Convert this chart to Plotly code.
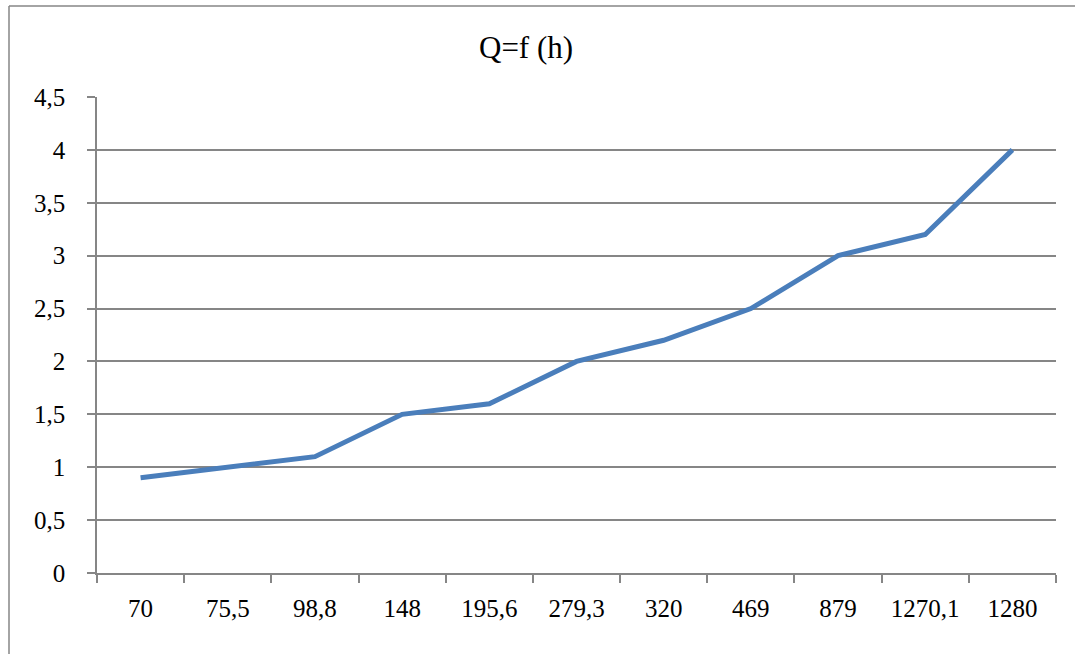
import plotly.graph_objects as go

categories = ["70", "75,5", "98,8", "148", "195,6", "279,3", "320", "469", "879", "1270,1", "1280"]
q_values = [0.9, 1.0, 1.1, 1.5, 1.6, 2.0, 2.2, 2.5, 3.0, 3.2, 4.0]
title_text = "Q=f (h)"

W, H = 1075, 654
L, R, T, B = 97, 19, 97, 81
pw, ph = W - L - R, H - T - B

def px_x(x):
    return (x - L) / pw

def px_y(y):
    return 1 + (T - y) / ph

gray = "#868686"
font_family = "Liberation Serif, Times New Roman, serif"

fig = go.Figure()
fig.add_trace(go.Scatter(
    x=categories, y=q_values, mode="lines",
    line=dict(color="#4A7EBB", width=5),
    hoverinfo="x+y", showlegend=False,
))

fig.update_layout(
    width=W, height=H,
    margin=dict(l=L, r=R, t=T, b=B, pad=0, autoexpand=False),
    paper_bgcolor="white", plot_bgcolor="white",
    separators=",.",
    font=dict(family=font_family, size=25, color="black"),
    showlegend=False,
    xaxis=dict(
        type="category", categoryorder="array", categoryarray=categories,
        range=[-0.5, len(categories) - 0.5], automargin=False,
        showgrid=False, showline=True, linecolor=gray, linewidth=1.5,
        ticks="outside", ticklen=8, tickwidth=1.5, tickcolor=gray,
        tickson="boundaries", ticklabelstandoff=12,
        tickfont=dict(family=font_family, size=25, color="black"),
        zeroline=False, fixedrange=True,
    ),
    yaxis=dict(
        range=[0, 4.5], dtick=0.5, tick0=0, automargin=False,
        showgrid=True, gridcolor=gray, gridwidth=1.5,
        showline=True, linecolor=gray, linewidth=1.5,
        ticks="outside", ticklen=8, tickwidth=1.5, tickcolor=gray,
        ticklabelstandoff=17,
        tickfont=dict(family=font_family, size=25, color="black"),
        zeroline=False, fixedrange=True,
    ),
    shapes=[
        dict(type="line", xref="paper", yref="paper",
             x0=px_x(9), x1=px_x(9), y0=px_y(6), y1=px_y(700),
             line=dict(color=gray, width=1.5)),
        dict(type="line", xref="paper", yref="paper",
             x0=px_x(9), x1=px_x(1100), y0=px_y(6), y1=px_y(6),
             line=dict(color=gray, width=1.5)),
    ],
    annotations=[
        dict(text=title_text, xref="paper", yref="paper",
             x=px_x(526), y=px_y(48), xanchor="center", yanchor="middle",
             showarrow=False, font=dict(family=font_family, size=31, color="black")),
    ],
)

fig.write_html(
    "out.html",
    config={"displayModeBar": False, "staticPlot": False},
    post_script="document.body.style.margin='0';document.body.style.overflow='hidden';",
)
